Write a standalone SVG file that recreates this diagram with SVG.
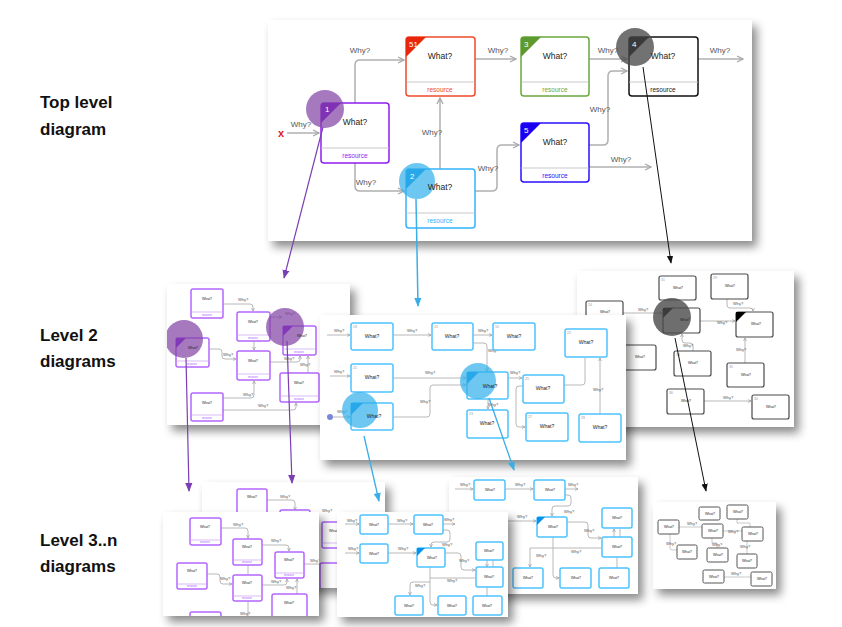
<svg xmlns="http://www.w3.org/2000/svg" width="842" height="627" viewBox="0 0 842 627">
<defs>
<filter id="sh" x="-10%" y="-10%" width="125%" height="130%"><feDropShadow dx="5" dy="6" stdDeviation="5" flood-color="#000" flood-opacity="0.45"/></filter>
<marker id="ag" viewBox="0 0 8 8" refX="7" refY="4" markerWidth="8" markerHeight="8" markerUnits="userSpaceOnUse" orient="auto"><path d="M1,1 L7,4 L1,7" fill="none" stroke="#a8a8a8" stroke-width="1.3"/></marker>
<marker id="as" viewBox="0 0 8 8" refX="7" refY="4" markerWidth="4" markerHeight="4" markerUnits="userSpaceOnUse" orient="auto"><path d="M1,1 L7,4 L1,7" fill="none" stroke="#999" stroke-width="1.3"/></marker>
<marker id="ap" viewBox="0 0 10 10" refX="9" refY="5" markerWidth="9" markerHeight="9" markerUnits="userSpaceOnUse" orient="auto"><path d="M0,1 L10,5 L0,9 z" fill="#7b3fb3"/></marker>
<marker id="ab" viewBox="0 0 10 10" refX="9" refY="5" markerWidth="9" markerHeight="9" markerUnits="userSpaceOnUse" orient="auto"><path d="M0,1 L10,5 L0,9 z" fill="#3aaee6"/></marker>
<marker id="ak" viewBox="0 0 10 10" refX="9" refY="5" markerWidth="8" markerHeight="8" markerUnits="userSpaceOnUse" orient="auto"><path d="M0,1 L10,5 L0,9 z" fill="#111"/></marker>
<clipPath id="c2p"><rect x="167" y="284" width="183" height="141"/></clipPath>
<clipPath id="c2g"><rect x="577" y="271" width="217" height="156"/></clipPath>
<clipPath id="c3pb"><rect x="202" y="482" width="183" height="106"/></clipPath>
<clipPath id="c3pf"><rect x="163" y="512" width="156" height="104"/></clipPath>
<clipPath id="c3bb"><rect x="449" y="477" width="189" height="117"/></clipPath>
<clipPath id="c3bf"><rect x="337" y="512" width="171" height="105"/></clipPath>
<style>
.f{font-family:"Liberation Sans",Arial,Helvetica,sans-serif}
.lab{font-family:"Liberation Sans",Arial,sans-serif;font-weight:bold;font-size:17px;fill:#111}
.panel{fill:#fff;filter:url(#sh)}
.ln{fill:none;stroke:#b0b0b0;stroke-width:1.5}
.ls{fill:none;stroke:#b8b8b8;stroke-width:1}
.why{font-family:"Liberation Sans",Arial,sans-serif;font-size:8px;fill:#555;text-anchor:middle}
.ws{font-family:"Liberation Sans",Arial,sans-serif;font-size:4px;fill:#555;text-anchor:middle}
.wt{font-family:"Liberation Sans",Arial,sans-serif;font-size:8.5px;fill:#222;text-anchor:middle}
.wm{font-family:"Liberation Sans",Arial,sans-serif;font-size:5px;fill:#222;text-anchor:middle}
.wx{font-family:"Liberation Sans",Arial,sans-serif;font-size:3.5px;fill:#222;text-anchor:middle}
.res{font-family:"Liberation Sans",Arial,sans-serif;font-size:6.5px;text-anchor:middle}
.rs{font-family:"Liberation Sans",Arial,sans-serif;font-size:2.6px;fill:#a64dff;text-anchor:middle}
.num{font-family:"Liberation Sans",Arial,sans-serif;font-size:8px;fill:#fff}
.nn{font-family:"Liberation Sans",Arial,sans-serif;font-size:3.5px;fill:#999}
.np{fill:#fff;stroke:#b366ff;stroke-width:1.5}
.nb{fill:#fff;stroke:#4cc2ff;stroke-width:1.5}
.ng{fill:#fff;stroke:#4a4a4a;stroke-width:1.2}
.dp{stroke:#c9a0f0;stroke-width:0.7}
</style>
</defs>
<rect width="842" height="627" fill="#fff"/>

<!-- labels -->
<g id="labels">
<text class="lab" x="40" y="108">Top level</text>
<text class="lab" x="40" y="135">diagram</text>
<text class="lab" x="40" y="341">Level 2</text>
<text class="lab" x="40" y="367">diagrams</text>
<text class="lab" x="40" y="546">Level 3..n</text>
<text class="lab" x="40" y="572">diagrams</text>
</g>

<!-- TOP LEVEL PANEL -->
<rect class="panel" x="268" y="20" width="484" height="221"/>
<g id="top-connectors">
<text x="281" y="137" class="f" font-size="11" font-weight="bold" fill="#e02020" text-anchor="middle">x</text>
<path class="ln" d="M287,133 H319" marker-end="url(#ag)"/>
<text class="why" x="301" y="127">Why?</text>
<path class="ln" d="M355,103 V65 Q355,60 360,60 H404" marker-end="url(#ag)"/>
<text class="why" x="360" y="53">Why?</text>
<path class="ln" d="M355,163 V186 Q355,191 360,191 H404" marker-end="url(#ag)"/>
<text class="why" x="366" y="185">Why?</text>
<path class="ln" d="M440,169 V98" marker-end="url(#ag)"/>
<text class="why" x="432" y="135">Why?</text>
<path class="ln" d="M475,191 H492 Q497,191 497,186 V150 Q497,145 502,145 H519" marker-end="url(#ag)"/>
<text class="why" x="488" y="171">Why?</text>
<path class="ln" d="M475,59 H516" marker-end="url(#ag)"/>
<text class="why" x="498" y="53">Why?</text>
<path class="ln" d="M589,59 H627" marker-end="url(#ag)"/>
<text class="why" x="608" y="53">Why?</text>
<path class="ln" d="M589,145 H603 Q608,145 608,140 V76 Q608,71 613,71 H627" marker-end="url(#ag)"/>
<text class="why" x="600" y="112">Why?</text>
<path class="ln" d="M589,167 H651" marker-end="url(#ag)"/>
<text class="why" x="621" y="162">Why?</text>
<path class="ln" d="M698,59 H743" marker-end="url(#ag)"/>
<text class="why" x="720" y="53">Why?</text>
</g>
<g id="node-51">
<rect x="406" y="37" width="69" height="59" rx="3" fill="#fff" stroke="#f04a2a" stroke-width="1.5"/>
<line x1="406" y1="82" x2="475" y2="82" stroke="#bbb" stroke-width="0.8"/>
<path d="M406,40 Q406,37 409,37 H426 L406,57 Z" fill="#e8260c"/>
<text class="num" x="409" y="47">51</text>
<text class="wt" x="440" y="59">What?</text>
<text class="res" x="440" y="92" fill="#f04a2a">resource</text>
</g>
<g id="node-1">
<rect x="321" y="103" width="68" height="60" rx="3" fill="#fff" stroke="#8f1cf0" stroke-width="1.5"/>
<line x1="321" y1="148" x2="389" y2="148" stroke="#bbb" stroke-width="0.8"/>
<path d="M321,106 Q321,103 324,103 H341 L321,123 Z" fill="#7600d8"/>
<circle cx="325" cy="109" r="19" fill="#8445a6" fill-opacity="0.72"/>
<text class="num" x="325" y="112" fill="#d9c6ee">1</text>
<text class="wt" x="355" y="125">What?</text>
<text class="res" x="355" y="158" fill="#8f1cf0">resource</text>
</g>
<g id="node-2">
<rect x="406" y="169" width="69" height="59" rx="3" fill="#fff" stroke="#33b4ff" stroke-width="1.5"/>
<line x1="406" y1="213" x2="475" y2="213" stroke="#bbb" stroke-width="0.8"/>
<path d="M406,172 Q406,169 409,169 H426 L406,189 Z" fill="#0a90e6"/>
<circle cx="417" cy="181" r="18" fill="#35b2ea" fill-opacity="0.72"/>
<text class="num" x="410" y="179" fill="#d6efff">2</text>
<text class="wt" x="440" y="190">What?</text>
<text class="res" x="440" y="223" fill="#33b4ff">resource</text>
</g>
<g id="node-3">
<rect x="521" y="37" width="68" height="59" rx="3" fill="#fff" stroke="#6aa83e" stroke-width="1.5"/>
<line x1="521" y1="82" x2="589" y2="82" stroke="#bbb" stroke-width="0.8"/>
<path d="M521,40 Q521,37 524,37 H541 L521,57 Z" fill="#5c9a30"/>
<text class="num" x="524" y="47">3</text>
<text class="wt" x="555" y="59">What?</text>
<text class="res" x="555" y="92" fill="#6aa83e">resource</text>
</g>
<g id="node-5">
<rect x="521" y="123" width="68" height="59" rx="3" fill="#fff" stroke="#2a10ff" stroke-width="1.5"/>
<line x1="521" y1="168" x2="589" y2="168" stroke="#bbb" stroke-width="0.8"/>
<path d="M521,126 Q521,123 524,123 H541 L521,143 Z" fill="#1a00f0"/>
<text class="num" x="524" y="133">5</text>
<text class="wt" x="555" y="145">What?</text>
<text class="res" x="555" y="178" fill="#2a10ff">resource</text>
</g>
<g id="node-4">
<rect x="629" y="37" width="69" height="59" rx="3" fill="#fff" stroke="#111" stroke-width="1.5"/>
<line x1="629" y1="82" x2="698" y2="82" stroke="#bbb" stroke-width="0.8"/>
<path d="M629,40 Q629,37 632,37 H649 L629,57 Z" fill="#000"/>
<circle cx="635" cy="47" r="19" fill="#4a4a4a" fill-opacity="0.78"/>
<text class="num" x="632" y="47" fill="#ccc">4</text>
<text class="wt" x="663" y="59">What?</text>
<text class="res" x="663" y="92" fill="#222">resource</text>
</g>

<!-- LEVEL 2: purple (back) -->
<rect class="panel" x="167" y="284" width="183" height="141"/>
<g id="l2-purple" clip-path="url(#c2p)">
<g class="ls">
<path d="M223,304 H250 Q253,304 253,307 V311" marker-end="url(#as)"/>
<path d="M270,317 H282" marker-end="url(#as)"/>
<path d="M254,341 V350" marker-end="url(#as)"/>
<path d="M209,349 H219 Q222,349 222,352 V356 Q222,359 225,359 H236" marker-end="url(#as)"/>
<path d="M270,362 H297 Q300,362 300,359 V356" marker-end="url(#as)"/>
<path d="M308,373 V356" marker-end="url(#as)"/>
<path d="M223,398 H251 Q254,398 254,395 V381" marker-end="url(#as)"/>
<path d="M223,410 H293 Q296,410 296,407 V403" marker-end="url(#as)"/>
</g>
<text class="ws" x="243" y="301">Why?</text>
<text class="ws" x="290" y="315">Why?</text>
<text class="ws" x="228" y="356">Why?</text>
<text class="ws" x="289" y="360">Why?</text>
<text class="ws" x="305" y="366">Why?</text>
<text class="ws" x="248" y="396">Why?</text>
<text class="ws" x="263" y="407">Why?</text>
<g id="p2a"><rect class="np" x="191" y="289" width="32" height="29" rx="2"/><line class="dp" x1="191" y1="312" x2="223" y2="312"/><text class="wx" x="207" y="300">What?</text><text class="rs" x="207" y="316">resource</text></g>
<g id="p2b"><rect class="np" x="237" y="312" width="33" height="29" rx="2"/><line class="dp" x1="237" y1="335" x2="270" y2="335"/><text class="wx" x="253" y="323">What?</text><text class="rs" x="253" y="339">resource</text></g>
<g id="p2d"><rect class="np" x="237" y="351" width="33" height="29" rx="2"/><line class="dp" x1="237" y1="374" x2="270" y2="374"/><text class="wx" x="253" y="362">What?</text><text class="rs" x="253" y="378">resource</text></g>
<g id="p2f"><rect class="np" x="280" y="373" width="39" height="29" rx="2"/><line class="dp" x1="280" y1="396" x2="319" y2="396"/><text class="wx" x="299" y="384">What?</text><text class="rs" x="299" y="400">resource</text></g>
<g id="p2g"><rect class="np" x="191" y="393" width="32" height="28" rx="2"/><line class="dp" x1="191" y1="415" x2="223" y2="415"/><text class="wx" x="207" y="404">What?</text><text class="rs" x="207" y="419">resource</text></g>
<g id="p2c"><rect class="np" x="176" y="338" width="33" height="29" rx="2"/><line class="dp" x1="176" y1="361" x2="209" y2="361"/><path d="M176,338 H186 L176,348 Z" fill="#7a1ce0"/><circle cx="184" cy="339" r="19" fill="#8445a6" fill-opacity="0.72"/><text class="wx" x="193" y="349">What?</text><text class="rs" x="192" y="365">resource</text></g>
<g id="p2e"><rect class="np" x="283" y="326" width="33" height="29" rx="2"/><line class="dp" x1="283" y1="349" x2="316" y2="349"/><path d="M283,326 H293 L283,336 Z" fill="#7a1ce0"/><circle cx="285" cy="327" r="19" fill="#8445a6" fill-opacity="0.72"/><text class="wx" x="302" y="337">What?</text><text class="rs" x="299" y="353">resource</text></g>
</g>

<!-- LEVEL 2: grey (back) -->
<rect class="panel" x="577" y="271" width="217" height="156"/>
<g id="l2-grey" clip-path="url(#c2g)">
<g class="ls">
<path d="M623,313 H662" marker-end="url(#as)"/>
<path d="M700,321 H735" marker-end="url(#as)"/>
<path d="M727,299 V305 Q727,308 730,308 H750 Q753,308 753,311" marker-end="url(#as)"/>
<path d="M693,351 V346 Q693,343 690,343 H685 Q682,343 682,340 V334" marker-end="url(#as)"/>
<path d="M745,363 V338" marker-end="url(#as)"/>
<path d="M704,401 H751" marker-end="url(#as)"/>
</g>
<text class="ws" x="643" y="311">Why?</text>
<text class="ws" x="722" y="324">Why?</text>
<text class="ws" x="738" y="305">Why?</text>
<text class="ws" x="688" y="347">Why?</text>
<text class="ws" x="741" y="351">Why?</text>
<text class="ws" x="728" y="399">Why?</text>
<g><rect class="ng" x="586" y="301" width="37" height="22" rx="2"/><text class="nn" x="588" y="306">24</text><text class="wx" x="605" y="313">What?</text></g>
<g><rect class="ng" x="659" y="276" width="37" height="24" rx="2"/><text class="nn" x="661" y="281">31</text><text class="wx" x="678" y="289">What?</text></g>
<g><rect class="ng" x="711" y="274" width="37" height="25" rx="2"/><text class="nn" x="713" y="279">29</text><text class="wx" x="730" y="287">What?</text></g>
<g><rect class="ng" x="736" y="312" width="37" height="25" rx="2"/><path d="M736,312 H746 L736,322 Z" fill="#000"/><text class="wx" x="756" y="325">What?</text></g>
<g><rect class="ng" x="612" y="345" width="44" height="25" rx="2"/><text class="wx" x="640" y="358">What?</text></g>
<g><rect class="ng" x="674" y="351" width="37" height="25" rx="2"/><text class="nn" x="676" y="356">34</text><text class="wx" x="693" y="364">What?</text></g>
<g><rect class="ng" x="727" y="363" width="37" height="24" rx="2"/><text class="nn" x="729" y="368">35</text><text class="wx" x="746" y="376">What?</text></g>
<g><rect class="ng" x="667" y="389" width="37" height="25" rx="2"/><text class="nn" x="669" y="394">36</text><text class="wx" x="686" y="402">What?</text></g>
<g><rect class="ng" x="752" y="395" width="37" height="24" rx="2"/><text class="nn" x="754" y="400">30</text><text class="wx" x="771" y="408">What?</text></g>
<g><rect class="ng" x="663" y="308" width="37" height="25" rx="2"/><path d="M663,308 H673 L663,318 Z" fill="#000"/><circle cx="672" cy="317" r="19" fill="#4a4a4a" fill-opacity="0.8"/><text class="wx" x="685" y="321">What?</text></g>
</g>

<!-- LEVEL 2: blue (front) -->
<rect class="panel" x="320" y="315" width="306" height="145"/>
<g id="l2-blue">
<g class="ls">
<path d="M327,335 H350" marker-end="url(#as)"/>
<path d="M393,335 H431" marker-end="url(#as)"/>
<path d="M473,335 H492" marker-end="url(#as)"/>
<path d="M473,343 H484 Q487,343 487,346 V371" marker-end="url(#as)"/>
<path d="M330,376 H350" marker-end="url(#as)"/>
<path d="M393,378 H466" marker-end="url(#as)"/>
<path d="M393,417 H427 Q430,417 430,414 V388 Q430,385 433,385 H466" marker-end="url(#as)"/>
<path d="M333,417 H350" marker-end="url(#as)"/>
<path d="M508,378 H522" marker-end="url(#as)"/>
<path d="M523,386 H519 Q516,386 516,389 V424 Q516,427 519,427 H525" marker-end="url(#as)"/>
<path d="M564,385 H582 Q585,385 585,382 V358"/>
<path d="M600,414 V358" marker-end="url(#as)"/>
<path d="M488,399 V409" marker-end="url(#as)"/>
</g>
<circle cx="330" cy="417" r="3" fill="#7b87d6"/>
<text class="ws" x="339" y="332">Why?</text>
<text class="ws" x="412" y="332">Why?</text>
<text class="ws" x="483" y="332">Why?</text>
<text class="ws" x="493" y="352">Why?</text>
<text class="ws" x="339" y="373">Why?</text>
<text class="ws" x="430" y="374">Why?</text>
<text class="ws" x="425" y="403">Why?</text>
<text class="ws" x="342" y="413">Why?</text>
<text class="ws" x="515" y="374">Why?</text>
<text class="ws" x="598" y="391">Why?</text>
<text class="ws" x="493" y="406">Why?</text>
<g><rect class="nb" x="351" y="323" width="42" height="27" rx="2"/><text class="nn" x="353" y="328">18</text><text class="wm" x="372" y="338">What?</text></g>
<g><rect class="nb" x="432" y="323" width="41" height="27" rx="2"/><text class="nn" x="434" y="328">15</text><text class="wm" x="452" y="338">What?</text></g>
<g><rect class="nb" x="493" y="323" width="42" height="27" rx="2"/><text class="nn" x="495" y="328">10</text><text class="wm" x="514" y="338">What?</text></g>
<g><rect class="nb" x="565" y="329" width="42" height="28" rx="2"/><text class="nn" x="567" y="334">22</text><text class="wm" x="586" y="344">What?</text></g>
<g><rect class="nb" x="351" y="364" width="42" height="28" rx="2"/><text class="nn" x="353" y="369">21</text><text class="wm" x="372" y="379">What?</text></g>
<g><rect class="nb" x="523" y="375" width="41" height="28" rx="2"/><text class="nn" x="525" y="380">25</text><text class="wm" x="543" y="390">What?</text></g>
<g><rect class="nb" x="467" y="410" width="41" height="28" rx="2"/><text class="nn" x="469" y="415">23</text><text class="wm" x="487" y="425">What?</text></g>
<g><rect class="nb" x="526" y="413" width="42" height="28" rx="2"/><text class="nn" x="528" y="418">27</text><text class="wm" x="547" y="428">What?</text></g>
<g><rect class="nb" x="579" y="414" width="42" height="28" rx="2"/><text class="nn" x="581" y="419">28</text><text class="wm" x="600" y="429">What?</text></g>
<g><rect class="nb" x="351" y="403" width="42" height="27" rx="2"/><path d="M351,403 H363 L351,415 Z" fill="#0a90e6"/><circle cx="360" cy="410" r="18" fill="#35b2ea" fill-opacity="0.72"/><text class="wm" x="374" y="418">What?</text></g>
<g><rect class="nb" x="467" y="372" width="41" height="27" rx="2"/><path d="M467,372 H479 L467,384 Z" fill="#0a90e6"/><circle cx="478" cy="381" r="18" fill="#35b2ea" fill-opacity="0.72"/><text class="wm" x="490" y="388">What?</text></g>
</g>

<!-- LEVEL 3: purple back -->
<rect class="panel" x="202" y="482" width="183" height="106"/>
<g id="l3-purple-back" clip-path="url(#c3pb)">
<path class="ls" d="M267,500 H292 Q295,500 295,503 V510" marker-end="url(#as)"/>
<text class="ws" x="285" y="498">Why?</text>
<text class="ws" x="327" y="512">Why?</text>
<g><rect class="np" x="237" y="489" width="30" height="26" rx="2"/><text class="wx" x="252" y="498">What?</text></g>
<g><rect class="np" x="280" y="510" width="30" height="26" rx="2"/></g>
<g><rect class="np" x="322" y="522" width="30" height="26" rx="2"/><text class="wx" x="334" y="532">What?</text><line class="dp" x1="322" y1="543" x2="352" y2="543"/></g>
<g><rect class="np" x="320" y="563" width="32" height="26" rx="2"/></g>
</g>

<!-- LEVEL 3: purple front -->
<rect class="panel" x="163" y="512" width="156" height="104"/>
<g id="l3-purple-front" clip-path="url(#c3pf)">
<g class="ls">
<path d="M221,528 H245 Q248,528 248,531 V538" marker-end="url(#as)"/>
<path d="M262,545 H286 Q289,545 289,548 V551" marker-end="url(#as)"/>
<path d="M207,574 H217 Q220,574 220,577 V581 Q220,584 223,584 H232" marker-end="url(#as)"/>
<path d="M262,585 H284 Q287,585 287,582 V579" marker-end="url(#as)"/>
<path d="M297,594 V579" marker-end="url(#as)"/>
<path d="M248,565 V574"/>
<path d="M248,601 V616"/>
<path d="M304,564 H320"/>
</g>
<text class="ws" x="238" y="526">Why?</text>
<text class="ws" x="276" y="542">Why?</text>
<text class="ws" x="225" y="580">Why?</text>
<text class="ws" x="276" y="583">Why?</text>
<text class="ws" x="291" y="589">Why?</text>
<text class="ws" x="245" y="615">Why?</text>
<text class="ws" x="315" y="562">Why?</text>
<g><rect class="np" x="190" y="518" width="31" height="27" rx="2"/><line class="dp" x1="190" y1="540" x2="221" y2="540"/><text class="wx" x="205" y="528">What?</text><text class="rs" x="205" y="543">resource</text></g>
<g><rect class="np" x="233" y="539" width="29" height="26" rx="2"/><line class="dp" x1="233" y1="560" x2="262" y2="560"/><text class="wx" x="247" y="548">What?</text><text class="rs" x="247" y="563">resource</text></g>
<g><rect class="np" x="177" y="563" width="30" height="26" rx="2"/><line class="dp" x1="177" y1="584" x2="207" y2="584"/><text class="wx" x="192" y="572">What?</text><text class="rs" x="192" y="587">resource</text></g>
<g><rect class="np" x="275" y="552" width="29" height="26" rx="2"/><line class="dp" x1="275" y1="573" x2="304" y2="573"/><text class="wx" x="289" y="561">What?</text><text class="rs" x="289" y="576">resource</text></g>
<g><rect class="np" x="233" y="575" width="29" height="26" rx="2"/><line class="dp" x1="233" y1="596" x2="262" y2="596"/><text class="wx" x="247" y="584">What?</text><text class="rs" x="247" y="599">resource</text></g>
<g><rect class="np" x="272" y="594" width="35" height="30" rx="2"/><text class="wx" x="289" y="604">What?</text></g>
<g><rect class="np" x="190" y="612" width="31" height="20" rx="2"/></g>
</g>

<!-- LEVEL 3: blue back -->
<rect class="panel" x="449" y="477" width="189" height="117"/>
<g id="l3-blue-back" clip-path="url(#c3bb)">
<g class="ls">
<path d="M455,489 H473" marker-end="url(#as)"/>
<path d="M505,489 H533" marker-end="url(#as)"/>
<path d="M565,489 H578" marker-end="url(#as)"/>
<path d="M565,495 H568 Q571,495 571,498 V503 Q571,506 568,506 H555 Q552,506 552,509 V516" marker-end="url(#as)"/>
<path d="M505,521 H536" marker-end="url(#as)"/>
<path d="M567,522 H585 Q588,522 588,525 V535 Q588,538 591,538 H601" marker-end="url(#as)"/>
<path d="M614,537 V529" marker-end="url(#as)"/>
<path d="M620,537 V529"/>
<path d="M553,537 V575 Q553,578 556,578 H559" marker-end="url(#as)"/>
<path d="M530,548 H601"/>
<path d="M530,548 V567" marker-end="url(#as)"/>
<path d="M617,557 V568"/>
</g>
<text class="ws" x="465" y="486">Why?</text>
<text class="ws" x="520" y="486">Why?</text>
<text class="ws" x="573" y="486">Why?</text>
<text class="ws" x="569" y="513">Why?</text>
<text class="ws" x="522" y="518">Why?</text>
<text class="ws" x="589" y="532">Why?</text>
<text class="ws" x="576" y="553">Why?</text>
<text class="ws" x="541" y="557">Why?</text>
<g><rect class="nb" x="474" y="480" width="31" height="20" rx="2"/><text class="wx" x="490" y="491">What?</text></g>
<g><rect class="nb" x="534" y="480" width="31" height="20" rx="2"/><text class="wx" x="550" y="491">What?</text></g>
<g><rect class="nb" x="537" y="517" width="30" height="20" rx="2"/><path d="M537,517 H545 L537,525 Z" fill="#0a90e6"/><text class="wx" x="553" y="528">What?</text></g>
<g><rect class="nb" x="602" y="508" width="30" height="20" rx="2"/><text class="wx" x="617" y="519">What?</text></g>
<g><rect class="nb" x="602" y="537" width="30" height="20" rx="2"/><text class="wx" x="617" y="548">What?</text></g>
<g><rect class="nb" x="513" y="568" width="30" height="20" rx="2"/><text class="wx" x="528" y="579">What?</text></g>
<g><rect class="nb" x="560" y="568" width="31" height="20" rx="2"/><text class="wx" x="576" y="579">What?</text></g>
<g><rect class="nb" x="599" y="568" width="30" height="20" rx="2"/><text class="wx" x="614" y="579">What?</text></g>
</g>

<!-- LEVEL 3: blue front -->
<rect class="panel" x="337" y="512" width="171" height="105"/>
<g id="l3-blue-front" clip-path="url(#c3bf)">
<g class="ls">
<path d="M345,524 H359" marker-end="url(#as)"/>
<path d="M388,524 H413" marker-end="url(#as)"/>
<path d="M443,524 H455" marker-end="url(#as)"/>
<path d="M443,530 H447 Q450,530 450,533 V539 Q450,542 447,542 H434 Q431,542 431,545 V547" marker-end="url(#as)"/>
<path d="M345,553 H359" marker-end="url(#as)"/>
<path d="M388,553 H416" marker-end="url(#as)"/>
<path d="M445,553 H458 Q461,553 461,556 V567 Q461,570 464,570 H475" marker-end="url(#as)"/>
<path d="M487,560 V567" marker-end="url(#as)"/>
<path d="M493,560 V567"/>
<path d="M430,567 V602 Q430,605 433,605 H437" marker-end="url(#as)"/>
<path d="M430,578 H475"/>
<path d="M430,582 H413 Q410,582 410,585 V595" marker-end="url(#as)"/>
<path d="M487,587 V596"/>
</g>
<text class="ws" x="352" y="522">Why?</text>
<text class="ws" x="402" y="522">Why?</text>
<text class="ws" x="449" y="521">Why?</text>
<text class="ws" x="447" y="546">Why?</text>
<text class="ws" x="353" y="550">Why?</text>
<text class="ws" x="403" y="550">Why?</text>
<text class="ws" x="464" y="562">Why?</text>
<text class="ws" x="452" y="582">Why?</text>
<text class="ws" x="420" y="587">Why?</text>
<g><rect class="nb" x="360" y="515" width="28" height="19" rx="2"/><text class="wx" x="374" y="526">What?</text></g>
<g><rect class="nb" x="414" y="515" width="29" height="19" rx="2"/><text class="wx" x="428" y="526">What?</text></g>
<g><rect class="nb" x="360" y="544" width="28" height="19" rx="2"/><text class="wx" x="374" y="555">What?</text></g>
<g><rect class="nb" x="417" y="548" width="28" height="19" rx="2"/><path d="M417,548 H425 L417,556 Z" fill="#0a90e6"/><text class="wx" x="432" y="559">What?</text></g>
<g><rect class="nb" x="476" y="542" width="27" height="18" rx="2"/><text class="wx" x="489" y="552">What?</text></g>
<g><rect class="nb" x="476" y="567" width="27" height="20" rx="2"/><text class="wx" x="489" y="578">What?</text></g>
<g><rect class="nb" x="395" y="596" width="28" height="19" rx="2"/><text class="wx" x="409" y="607">What?</text></g>
<g><rect class="nb" x="438" y="596" width="28" height="19" rx="2"/><text class="wx" x="452" y="607">What?</text></g>
<g><rect class="nb" x="473" y="596" width="29" height="19" rx="2"/><text class="wx" x="487" y="607">What?</text></g>
</g>

<!-- LEVEL 3: grey -->
<rect class="panel" x="653" y="502" width="123" height="87"/>
<g id="l3-grey">
<g fill="none" stroke="#bbb" stroke-width="0.8">
<path d="M679,527 H702"/>
<path d="M723,531 H742"/>
<path d="M737,519 V523 H750 V527"/>
<path d="M670,534 V548 Q670,550 672,550 H677"/>
<path d="M712,538 V543 H717 V548"/>
<path d="M747,541 V554"/>
<path d="M724,577 H751"/>
</g>
<text class="ws" font-size="3" x="692" y="525">Why?</text>
<text class="ws" font-size="3" x="733" y="533">Why?</text>
<text class="ws" font-size="3" x="671" y="545">Why?</text>
<text class="ws" font-size="3" x="717" y="546">Why?</text>
<text class="ws" font-size="3" x="745" y="548">Why?</text>
<text class="ws" font-size="3" x="736" y="575">Why?</text>
<g fill="#fff" stroke="#555" stroke-width="1">
<rect x="699" y="507" width="21" height="13" rx="1.5"/>
<rect x="727" y="505" width="21" height="14" rx="1.5"/>
<rect x="658" y="520" width="21" height="14" rx="1.5"/>
<rect x="702" y="524" width="21" height="14" rx="1.5"/>
<rect x="742" y="527" width="21" height="14" rx="1.5"/>
<rect x="677" y="545" width="20" height="14" rx="1.5"/>
<rect x="707" y="548" width="21" height="14" rx="1.5"/>
<rect x="737" y="554" width="20" height="14" rx="1.5"/>
<rect x="703" y="570" width="21" height="13" rx="1.5"/>
<rect x="751" y="572" width="21" height="14" rx="1.5"/>
</g>
<g class="wx" font-size="3">
<text x="710" y="515">What?</text><text x="738" y="513">What?</text><text x="669" y="528">What?</text><text x="713" y="532">What?</text><text x="753" y="535">What?</text><text x="687" y="553">What?</text><text x="718" y="556">What?</text><text x="747" y="562">What?</text><text x="714" y="578">What?</text><text x="762" y="580">What?</text>
</g>
</g>

<!-- drill-down connectors -->
<g id="drill-connectors" fill="none">
<path d="M323,127 L284,278" stroke="#7b3fb3" stroke-width="1.2" marker-end="url(#ap)"/>
<path d="M416,199 L418,306" stroke="#3aaee6" stroke-width="1.5" marker-end="url(#ab)"/>
<path d="M643,67 L671,263" stroke="#111" stroke-width="1" marker-end="url(#ak)"/>
<path d="M186,358 L189,491" stroke="#7b3fb3" stroke-width="1.2" marker-end="url(#ap)"/>
<path d="M287,341 L292,483" stroke="#7b3fb3" stroke-width="1.2" marker-end="url(#ap)"/>
<path d="M364,436 L379,501" stroke="#3aaee6" stroke-width="1.3" marker-end="url(#ab)"/>
<path d="M489,398 L514,470" stroke="#3aaee6" stroke-width="1.3" marker-end="url(#ab)"/>
<path d="M675,338 L706,491" stroke="#111" stroke-width="1" marker-end="url(#ak)"/>
</g>
</svg>
